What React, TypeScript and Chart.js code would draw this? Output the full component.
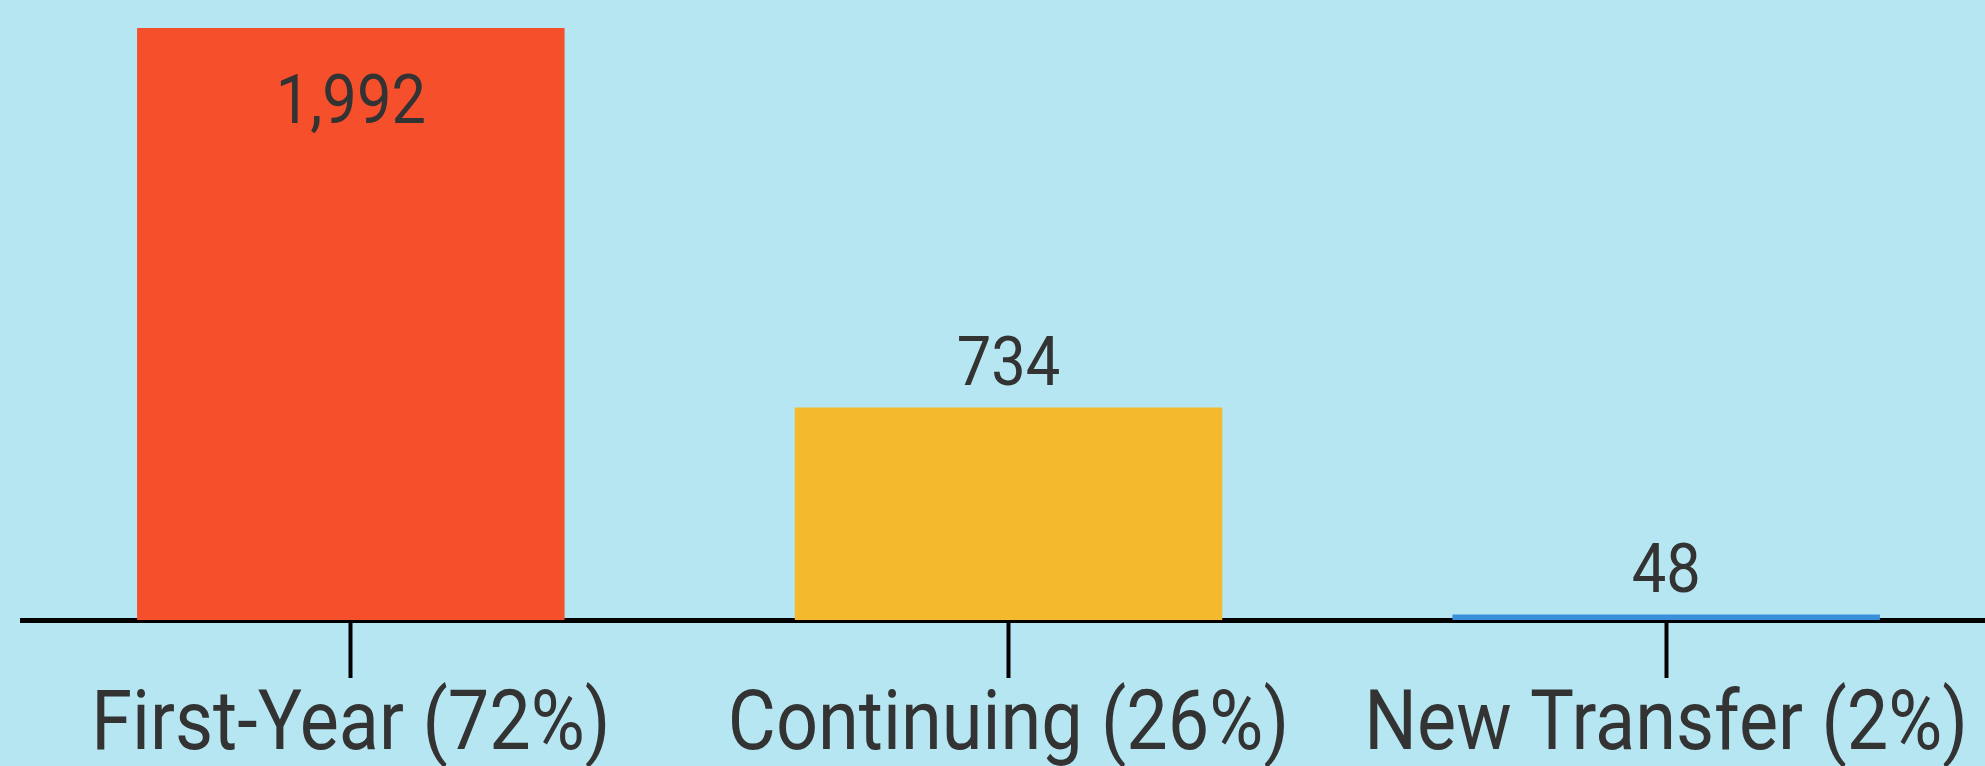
import React, { useEffect, useRef } from "react";
import { Chart, registerables } from "chart.js";

Chart.register(...registerables);

const categories = ["First-Year (72%)", "Continuing (26%)", "New Transfer (2%)"];
const counts = [1992, 734, 48];
const barColors = ["#F64F2B", "#F5B92E", "#3A8FDB"];
const yMin = 30;
const yMax = 2085;

const FONT = "Roboto, 'Noto Sans', sans-serif";
const TEXT = "#333333";
const CONDENSE = 0.89;

const drawScaled = (ctx: any, txt: string, x: number, y: number, sx: number) => {
  ctx.save();
  ctx.translate(x, y);
  ctx.scale(sx, 1);
  ctx.fillText(txt, 0, 0);
  ctx.restore();
};

const textPlugin = {
  id: "textPlugin",
  afterDatasetsDraw(chart: any) {
    const { ctx, chartArea } = chart;
    const meta = chart.getDatasetMeta(0);
    ctx.save();
    ctx.font = `69px ${FONT}`;
    ctx.fillStyle = TEXT;
    ctx.textAlign = "center";
    ctx.textBaseline = "alphabetic";
    meta.data.forEach((bar: any, i: number) => {
      const txt = counts[i].toLocaleString("en-US");
      const gap = 23;
      if (bar.y - gap - 50 < chartArea.top) {
        drawScaled(ctx, txt, bar.x, bar.y + 95, CONDENSE);
      } else {
        drawScaled(ctx, txt, bar.x, bar.y - gap, CONDENSE);
      }
    });
    const xs = chart.scales.x;
    ctx.font = `83px ${FONT}`;
    categories.forEach((c, i) => {
      const x = xs.getPixelForTick(i);
      drawScaled(ctx, c, x, chartArea.bottom + 129, CONDENSE);
    });
    ctx.restore();
  },
};

export default function App() {
  const ref = useRef<HTMLCanvasElement>(null);
  useEffect(() => {
    if (!ref.current) return;
    const chart = new Chart(ref.current, {
      type: "bar",
      data: {
        labels: categories,
        datasets: [
          {
            data: counts,
            backgroundColor: barColors,
            borderWidth: 0,
            base: yMin,
            barPercentage: 0.65,
            categoryPercentage: 1,
          },
        ],
      },
      options: {
        animation: false,
        responsive: false,
        maintainAspectRatio: false,
        layout: { padding: { left: 22, right: 0, top: 0, bottom: 0 } },
        plugins: {
          legend: { display: false },
          tooltip: { enabled: false },
        },
        scales: {
          x: {
            grid: {
              display: true,
              drawOnChartArea: false,
              drawTicks: true,
              tickLength: 58,
              tickColor: "#000000",
              tickWidth: 4,
              offset: false,
            },
            border: { display: true, color: "#000000", width: 5 },
            ticks: {
              color: "rgba(0,0,0,0)",
              font: { family: FONT, size: 70 },
              padding: 2,
              maxRotation: 0,
              autoSkip: false,
            },
          },
          y: {
            display: false,
            min: yMin,
            max: yMax,
          },
        },
      },
      plugins: [textPlugin],
    });
    return () => chart.destroy();
  }, []);
  return (
    <div
      style={{
        position: "fixed",
        left: 0,
        top: 0,
        width: 1985,
        height: 766,
        overflow: "hidden",
        background: "#B5E6F1",
      }}
    >
      <canvas ref={ref} width={1995} height={766} style={{ display: "block" }} />
    </div>
  );
}
